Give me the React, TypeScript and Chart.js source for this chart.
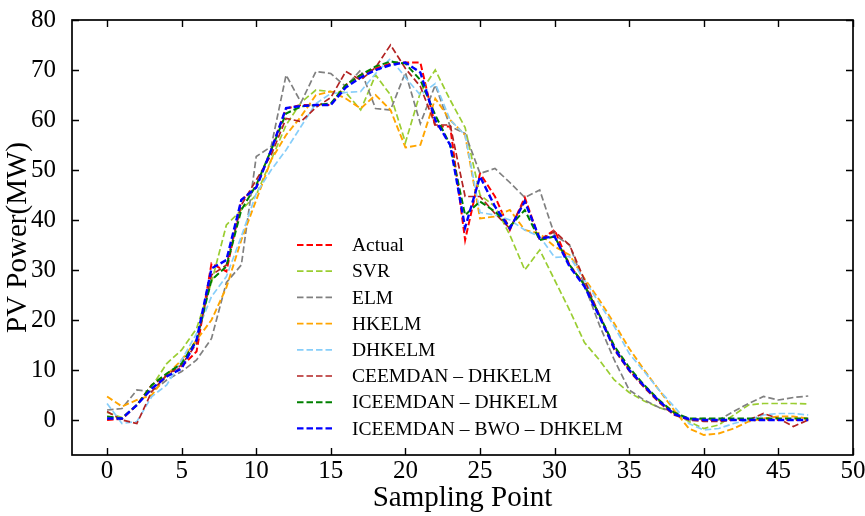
import React, { useEffect, useRef } from "react";
import { Chart, registerables } from "chart.js";

Chart.register(...registerables);

const samplingPoints = [0, 1, 2, 3, 4, 5, 6, 7, 8, 9, 10, 11, 12, 13, 14, 15, 16, 17, 18, 19, 20, 21, 22, 23, 24, 25, 26, 27, 28, 29, 30, 31, 32, 33, 34, 35, 36, 37, 38, 39, 40, 41, 42, 43, 44, 45, 46, 47];

const actual = [0, 0.2, 3, 7, 9, 10.7, 13.7, 31.3, 29.7, 44, 46.5, 54, 62.3, 63, 63, 63, 67, 69, 70.3, 71.3, 71.5, 71.5, 58.7, 58.7, 36, 49.3, 44.7, 38, 44.5, 36, 38, 31, 27, 21, 14.5, 10, 6.8, 3.8, 1.3, 0.2, 0, 0, 0, 0, 0, 0, 0, 0];
const svr = [1.5, 0.5, 3, 6.7, 11.3, 14, 18.3, 27.5, 39, 42, 45, 52, 59, 63.5, 66, 65.7, 65.5, 62, 69, 65, 55.5, 65.5, 70, 64, 58.5, 45, 42.7, 37, 30, 34, 28, 22, 15.5, 12, 8, 5.5, 3.8, 2.5, 1.5, -0.3, -1.7, -1, 1, 3, 3.3, 3.3, 3.3, 3.2];
const elm = [2, 2.3, 6, 5.7, 8, 9.7, 12, 16.3, 27.5, 31, 52.7, 54.7, 69, 63.5, 69.7, 69.3, 66.7, 70, 62.3, 62, 69.5, 59.3, 67, 58.7, 57.3, 49.3, 50.3, 47.5, 44.5, 46, 37, 35, 27, 19, 12, 6, 4, 2.5, 1.7, 0, 0.3, 0, 1.7, 3.3, 4.7, 4, 4.5, 4.8];
const hkelm = [4.7, 2.7, 4, 5, 9, 12, 16, 20, 26.5, 36, 44, 52, 57, 60.7, 65, 65.7, 64.3, 62.3, 65, 62, 54.5, 55, 64.3, 60, 57, 40.3, 40.7, 42, 38, 37.3, 34.7, 33, 28.3, 24, 19.3, 14.3, 10, 6, 2, -1.7, -3, -2.7, -1.7, -0.3, 0.3, 0.7, 0.7, 0.3];
const dhkelm = [3.3, -0.7, -0.3, 4.7, 7, 12, 17.3, 24.7, 28.7, 36.7, 45.3, 50, 54, 58.7, 63.3, 65.3, 65.5, 65.7, 69.3, 72.3, 68.5, 65, 67.3, 60, 57, 41.5, 41, 40, 38, 36.7, 32.5, 32.7, 28, 23.3, 18.7, 13.3, 9.7, 6, 2.7, -0.7, -2, -1.7, -0.7, 0, 1, 1.3, 1.3, 1];
const ceemdanDhkelm = [1.7, 0, -0.7, 5.7, 9, 11, 15.3, 29, 31, 43, 48, 53, 60.3, 59.7, 62.5, 64.5, 69.7, 68, 70.5, 75, 70.3, 66.7, 59, 59, 44.7, 44.7, 41.3, 38.3, 44, 36, 37.7, 35, 28, 21, 14, 9.8, 6.5, 3.5, 1, 0, -0.3, -0.3, 0, 0, 1.3, 0.3, -1.3, 0];
const iceemdanDhkelm = [0.7, 0.3, 3, 7, 9.3, 11.3, 16, 28, 30.7, 42, 47, 54, 61.3, 62.7, 63, 63.3, 67, 69, 70.7, 71.7, 71.3, 68, 61, 55, 41, 43.7, 41.7, 38.7, 42, 36, 36.7, 31, 27, 21, 14.8, 10.5, 7, 4, 1.5, 0.3, 0.3, 0.3, 0.3, 0.3, 0.3, 0.3, 0.3, 0.3];
const iceemdanBwoDhkelm = [0.3, 0.3, 3, 6.3, 8.7, 10.3, 16, 30.3, 32, 44, 46.5, 54, 62.4, 62.8, 63, 63, 66.5, 68.5, 70, 71, 71.5, 69.5, 60, 55, 38.5, 48.7, 42.7, 38.3, 43.7, 36.3, 36.7, 30.7, 26.7, 20.7, 14.3, 10, 6.8, 3.8, 1.2, 0.2, 0, 0, 0, 0, 0, 0, 0, 0];

const seriesNames = ["Actual", "SVR", "ELM", "HKELM", "DHKELM", "CEEMDAN – DHKELM", "ICEEMDAN – DHKELM", "ICEEMDAN – BWO – DHKELM"];
const seriesValues = [actual, svr, elm, hkelm, dhkelm, ceemdanDhkelm, iceemdanDhkelm, iceemdanBwoDhkelm];
const seriesColors = ["#ff0000", "#9acd32", "#808080", "#ffa500", "#87cefa", "#b22222", "#008000", "#0000ff"];
const seriesWidths = [2, 1.7, 1.7, 1.9, 1.7, 1.7, 2, 2.4];

const xTickValues = [0, 5, 10, 15, 20, 25, 30, 35, 40, 45, 50];
const yTickValues = [0, 10, 20, 30, 40, 50, 60, 70, 80];
const xTitle = "Sampling Point";
const yTitle = "PV Power(MW)";

const FONT = "'Liberation Serif', 'Times New Roman', serif";
const DASH = [6.5, 3];

const framePlugin = {
  id: "frameTicks",
  afterDraw(chart: any) {
    const { ctx, chartArea } = chart;
    const { left, right, top, bottom } = chartArea;
    const xs = chart.scales.x;
    const ys = chart.scales.y;
    ctx.save();
    ctx.strokeStyle = "#000";
    ctx.lineWidth = 1.7;
    ctx.setLineDash([]);
    ctx.strokeRect(left, top, right - left, bottom - top);
    const len = 7;
    ctx.beginPath();
    xTickValues.forEach((v) => {
      const px = Math.round(xs.getPixelForValue(v)) + 0.5;
      ctx.moveTo(px, bottom);
      ctx.lineTo(px, bottom - len);
      ctx.moveTo(px, top);
      ctx.lineTo(px, top + len);
    });
    yTickValues.forEach((v) => {
      const py = Math.round(ys.getPixelForValue(v)) + 0.5;
      ctx.moveTo(left, py);
      ctx.lineTo(left + len, py);
      ctx.moveTo(right, py);
      ctx.lineTo(right - len, py);
    });
    ctx.lineWidth = 1.4;
    ctx.stroke();
    ctx.restore();
  },
};

const legendPlugin = {
  id: "innerLegend",
  afterDraw(chart: any) {
    const { ctx } = chart;
    const x0 = 297;
    const lineLen = 37;
    const textX = 352;
    const y0 = 245;
    const step = 26.2;
    ctx.save();
    ctx.font = `19.5px ${FONT}`;
    ctx.textBaseline = "middle";
    ctx.fillStyle = "#000";
    seriesNames.forEach((name, i) => {
      const y = y0 + i * step;
      ctx.beginPath();
      ctx.setLineDash(DASH);
      ctx.strokeStyle = seriesColors[i];
      ctx.lineWidth = seriesWidths[i];
      ctx.moveTo(x0, y);
      ctx.lineTo(x0 + lineLen, y);
      ctx.stroke();
      ctx.setLineDash([]);
      ctx.fillText(name, textX, y + 1);
    });
    ctx.restore();
  },
};

export default function App() {
  const canvasRef = useRef<HTMLCanvasElement | null>(null);

  useEffect(() => {
    if (!canvasRef.current) return;
    const datasets = seriesNames.map((name, i) => ({
      label: name,
      data: samplingPoints.map((x, j) => ({ x, y: seriesValues[i][j] })),
      borderColor: seriesColors[i],
      backgroundColor: seriesColors[i],
      borderWidth: seriesWidths[i],
      borderDash: DASH,
      pointRadius: 0,
      tension: 0,
      fill: false,
      order: seriesNames.length - i,
    }));
    const chart = new Chart(canvasRef.current, {
      type: "line",
      data: { datasets },
      plugins: [framePlugin, legendPlugin],
      options: {
        responsive: false,
        animation: false,
        devicePixelRatio: 1,
        layout: { padding: { top: 20, right: 12, left: 0, bottom: 0 } },
        plugins: { legend: { display: false }, tooltip: { enabled: false } },
        scales: {
          x: {
            type: "linear",
            min: -2.35,
            max: 50,
            afterBuildTicks: (s: any) => {
              s.ticks = xTickValues.map((v) => ({ value: v }));
            },
            afterFit: (s: any) => {
              s.height = 61;
              s.paddingLeft = 0;
              s.paddingRight = 0;
            },
            grid: { display: false, drawTicks: false },
            border: { display: false },
            ticks: { color: "#000", font: { family: FONT, size: 25 }, padding: 1, maxRotation: 0, autoSkip: false },
            title: { display: true, text: xTitle, color: "#000", font: { family: FONT, size: 29 }, padding: { bottom: 0, top: 0 } },
          },
          y: {
            type: "linear",
            min: -7,
            max: 80,
            afterBuildTicks: (s: any) => {
              s.ticks = yTickValues.map((v) => ({ value: v }));
            },
            afterFit: (s: any) => {
              s.width = 72;
              s.paddingTop = 0;
              s.paddingBottom = 0;
            },
            grid: { display: false, drawTicks: false },
            border: { display: false },
            ticks: { color: "#000", font: { family: FONT, size: 25 }, padding: 16, autoSkip: false },
            title: { display: true, text: yTitle, color: "#000", font: { family: FONT, size: 29 }, padding: { top: 1, bottom: 0 } },
          },
        },
      },
    });
    return () => chart.destroy();
  }, []);

  return (
    <div style={{ position: "fixed", left: 0, top: 0, width: 865, height: 516, background: "#fff" }}>
      <canvas ref={canvasRef} width={865} height={516} />
    </div>
  );
}
